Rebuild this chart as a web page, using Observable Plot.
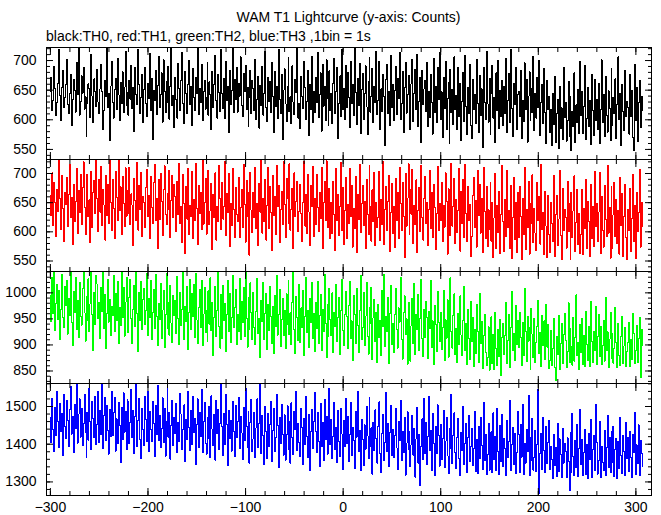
<!DOCTYPE html>
<html><head><meta charset="utf-8">
<script src="https://cdn.jsdelivr.net/npm/d3@7"></script>
<script src="https://cdn.jsdelivr.net/npm/@observablehq/plot@0.6"></script>
<style>
body{margin:0;background:#fff}
#chart{position:relative;width:661px;height:515px;background:#fff;font-family:"Liberation Sans",Arial,Helvetica,sans-serif;color:#000;overflow:hidden}
.t{position:absolute;font-size:14px;line-height:14px;white-space:nowrap}
#chart svg{position:absolute;left:0}
</style></head><body>
<div id="chart">
<div class="t" style="left:46px;width:605px;top:10px;text-align:center">WAM T1 Lightcurve (y-axis: Counts)</div>
<div class="t" style="left:46px;top:29px">black:TH0, red:TH1, green:TH2, blue:TH3 ,1bin = 1s</div>
</div>
<script>
// time bins: start (s) and bin width (s)
const tStart = -300;
const binSec = 1;

// tick values
const xMajorTicks = [-300, -200, -100, 0, 100, 200, 300];
const yTicksTH0 = [550, 600, 650, 700];
const yTicksTH1 = [550, 600, 650, 700];
const yTicksTH2 = [850, 900, 950, 1000];
const yTicksTH3 = [1300, 1400, 1500];

// counts per 1 s bin (read/estimated from the picture)
const th0 = [
648,671,615,633,690,652,607,629,662,718,641,598,655,683,620,637,
659,702,626,611,645,677,590,634,668,650,613,697,642,721,608,631,
674,645,688,618,639,571,627,661,653,604,710,640,596,669,648,622,
685,630,611,652,694,647,583,616,666,639,722,620,644,565,657,699,
629,603,651,670,617,704,642,598,663,628,681,612,655,716,624,646,
608,667,635,692,619,654,580,688,643,625,719,660,611,637,676,595,
651,689,627,606,661,636,712,615,670,567,649,632,684,609,658,707,
621,643,679,596,701,648,612,665,630,690,601,656,722,624,641,587,
672,634,603,695,652,615,666,713,628,593,681,645,611,660,700,626,
657,591,686,637,616,671,644,720,609,653,629,693,598,648,667,618,
638,697,608,664,642,584,682,621,659,709,632,603,676,646,614,718,
645,619,670,602,699,633,657,578,684,625,650,721,612,668,634,688,
613,661,640,706,624,605,678,647,692,617,655,589,637,684,610,667,
653,616,702,600,635,673,586,658,624,690,608,645,715,621,597,672,
631,664,612,696,640,579,681,622,657,602,718,634,610,677,566,650,
686,627,597,656,705,614,639,593,691,630,609,668,646,720,603,628,
585,673,640,619,699,655,601,631,684,574,659,617,707,596,648,612,
671,629,713,604,642,679,581,694,623,657,598,701,636,590,683,615,
645,594,662,704,611,648,689,568,627,674,606,719,618,653,600,692,
620,680,638,587,698,628,660,607,722,646,592,670,624,695,577,651,
678,600,644,691,622,575,664,705,613,640,687,595,657,629,716,609,
632,699,584,652,614,677,639,556,668,693,610,647,590,708,621,660,
598,650,690,609,669,636,714,601,627,682,578,654,697,611,642,675,
622,583,661,702,597,644,685,618,711,589,631,671,562,684,625,652,
666,614,697,588,647,604,676,630,576,703,612,657,596,689,634,714,
600,647,570,672,619,698,583,636,663,560,685,612,651,592,706,618,
641,584,689,606,661,565,631,680,597,708,622,575,654,610,693,590,
568,668,617,642,594,701,628,579,675,607,652,553,689,630,600,716,
627,596,670,575,645,692,603,638,561,679,615,700,585,649,606,667,
590,657,611,704,578,633,678,595,718,619,571,662,626,689,583,643,
648,606,684,569,632,597,696,617,668,562,640,681,599,652,612,707,
582,645,603,671,621,700,573,629,659,593,687,613,560,666,618,640,
579,618,556,644,592,673,562,610,634,551,656,585,620,567,688,604,
630,564,599,665,572,639,548,614,588,679,561,625,596,651,577,698,
607,648,577,623,691,567,603,655,589,632,558,677,615,573,668,598,
634,583,661,560,617,701,596,643,571,673,608,579,649,619,565,686,
591,638,611,669,568,626,706,600,645,557,660,614,582,683,605,631,
620,576,676,606,649,570,548,693,598,655,563,629,667,587,639,615
];
const th1 = [
662,628,701,611,684,650,592,673,635,724,657,604,696,640,583,668,
647,693,609,664,715,624,659,578,682,618,652,708,597,671,633,699,
613,676,720,642,595,661,699,626,655,581,704,607,668,688,631,722,
657,600,690,634,712,611,673,646,586,697,628,681,615,724,651,603,
689,640,588,703,659,619,724,636,677,596,695,649,609,710,627,671,
632,711,612,665,646,577,692,653,620,719,603,679,638,701,592,660,
650,607,676,707,626,663,589,695,641,614,684,716,619,657,571,690,
621,700,652,594,672,713,630,612,666,639,706,590,654,697,625,681,
660,600,686,630,718,614,643,582,699,648,563,677,622,709,596,645,
627,703,589,656,620,717,640,578,679,632,667,604,724,613,650,692,
596,649,706,612,636,683,570,664,625,701,586,643,617,714,657,604,
685,622,644,720,593,665,633,700,575,648,611,709,639,590,676,630,
618,694,590,642,672,607,716,647,582,688,626,667,560,702,637,599,
667,624,710,606,648,577,683,634,722,598,658,617,690,586,645,711,
605,677,633,568,697,628,660,596,714,643,680,581,638,669,612,720,
647,590,692,657,614,717,603,639,674,571,701,626,652,687,601,635,
681,631,583,650,721,610,664,597,699,634,576,679,644,712,592,657,
612,698,641,600,668,623,711,572,650,687,619,722,607,640,675,588,
650,597,686,629,568,708,619,664,593,644,719,603,676,578,636,693,
588,647,615,709,627,679,574,640,606,695,565,664,621,716,599,648,
680,611,652,571,690,630,595,713,643,584,672,617,702,576,650,607,
624,703,585,656,613,720,578,639,678,603,652,697,566,633,683,597,
643,573,691,620,667,589,710,648,602,684,627,556,700,610,658,717,
596,672,630,707,580,645,612,689,565,637,676,600,713,624,586,657,
695,615,650,576,639,705,606,668,590,682,641,569,631,712,602,648,
620,684,584,646,608,701,652,562,674,627,593,718,610,644,692,580,
656,599,637,709,567,669,614,690,591,715,631,583,677,619,647,557,
592,663,694,607,653,574,706,628,681,598,657,565,711,635,588,678,
575,638,604,685,584,651,556,624,700,572,645,599,670,563,630,713,
617,567,656,592,705,608,636,571,680,555,624,693,587,650,565,668,
590,678,627,552,658,596,710,570,639,607,687,562,648,615,698,581,
640,598,568,684,619,660,579,716,604,633,561,670,610,556,662,596,
564,651,614,583,697,558,629,663,576,622,705,593,553,675,602,638,
625,572,687,600,648,552,668,590,636,696,566,616,672,578,631,563,
596,673,561,640,606,690,571,652,617,557,681,588,644,575,703,609,
648,584,634,701,563,660,603,574,679,622,592,714,598,642,555,677,
571,629,685,592,655,580,637,562,694,611,666,558,627,682,590,553,
638,603,674,567,623,698,583,646,555,668,600,633,707,574,650,610
];
const th2 = [
994,945,1030,960,1041,928,979,1016,949,1005,911,968,1036,952,934,1012,
976,1024,921,990,957,1041,943,899,1003,963,1029,930,985,915,1020,954,
938,1008,1041,962,907,993,947,1027,925,979,1040,958,889,1001,940,1033,
1017,951,981,913,1011,965,1041,932,996,893,960,1025,944,988,919,973,
957,1034,926,999,947,1022,903,972,937,1041,953,1010,917,982,1030,941,
923,991,1026,950,902,969,1015,935,1041,961,888,1000,946,1021,929,987,
1009,940,966,1038,918,989,952,1023,910,963,1006,931,1035,955,898,980,
948,1018,912,967,1005,895,958,1037,931,982,919,1014,942,905,995,956,
985,922,1031,950,900,1001,937,968,1041,911,973,945,1012,891,962,1025,
930,998,955,1017,914,1038,948,903,971,1006,934,1024,898,959,1011,924,
967,907,1004,940,1029,927,982,879,953,1013,916,966,1039,936,894,996,
913,1015,946,979,887,958,1023,925,999,905,952,1034,933,972,1007,900,
958,926,1027,910,983,943,1010,916,1041,951,896,992,929,1019,962,911,
1001,934,900,965,1027,922,950,876,986,945,1020,911,961,999,891,978,
927,1012,954,903,973,883,995,936,1033,919,958,1007,897,948,989,918,
966,893,998,940,1024,920,962,901,981,1039,930,884,993,953,908,1016,
905,971,933,1005,879,954,1030,924,966,896,989,943,1019,913,960,888,
982,932,1021,903,957,997,889,969,926,1035,941,876,977,916,1009,949,
918,1000,885,962,935,1017,907,952,991,881,967,1026,928,898,958,1003,
955,893,976,1022,913,946,871,995,958,902,1008,937,886,966,1033,910,
934,1000,898,955,1020,917,882,972,941,1011,872,952,987,906,962,867,
977,914,947,880,1004,935,1036,897,955,925,991,864,960,1014,901,941,
885,958,1009,929,894,971,944,1030,911,873,962,994,920,950,863,982,
945,869,937,989,903,1018,882,959,929,997,890,951,1026,913,877,968,
914,984,953,874,965,931,1024,895,946,862,976,939,887,1003,944,906,
962,891,934,1004,870,948,913,987,876,964,1029,925,894,957,998,881,
932,866,961,900,994,919,879,947,1012,890,941,862,968,912,873,983,
906,952,858,930,884,978,925,867,999,903,945,855,918,958,886,860,
876,935,851,907,954,864,920,853,963,893,861,930,878,949,842,915,
941,882,918,982,865,909,958,856,933,1002,889,922,870,976,900,947,
895,962,914,860,944,879,1008,926,868,955,907,934,852,970,921,875,
951,866,905,936,985,884,924,858,956,899,946,872,978,896,940,854,
871,927,860,893,950,856,831,916,882,957,853,903,942,864,920,961,
908,857,887,981,866,931,897,861,953,869,914,996,879,904,852,939,
885,950,862,919,858,965,900,871,935,859,984,907,867,926,890,973,
863,916,958,878,936,862,899,947,869,992,889,925,856,911,963,874,
922,865,893,972,905,857,941,880,861,917,955,864,898,933,858,887,
904,943,858,911,872,960,922,864,889,938,866,913,953,838,930,899
];
const th3 = [
1470,1405,1521,1438,1380,1497,1422,1540,1459,1392,1508,1433,1481,1371,1533,1448,
1416,1515,1462,1395,1492,1552,1427,1473,1378,1505,1441,1561,1403,1480,1520,1419,
1496,1397,1455,1532,1430,1365,1485,1411,1548,1460,1386,1513,1468,1418,1527,1400,
1453,1540,1404,1489,1425,1561,1388,1477,1523,1409,1503,1436,1374,1492,1420,1539,
1423,1483,1525,1382,1467,1402,1510,1450,1352,1498,1412,1536,1432,1487,1385,1518,
1512,1401,1457,1545,1417,1490,1375,1474,1561,1393,1463,1521,1413,1362,1495,1439,
1397,1526,1466,1408,1541,1381,1486,1440,1406,1514,1454,1367,1503,1426,1555,1410,
1476,1390,1442,1523,1404,1495,1368,1461,1552,1418,1484,1360,1449,1517,1397,1471,
1429,1509,1379,1458,1407,1535,1480,1385,1439,1504,1355,1466,1413,1541,1445,1383,
1490,1398,1526,1431,1468,1347,1452,1520,1392,1485,1421,1545,1377,1459,1511,1403,
1373,1470,1416,1500,1364,1528,1440,1396,1479,1358,1515,1428,1492,1386,1455,1561,
1446,1369,1482,1400,1533,1452,1343,1489,1414,1463,1382,1513,1434,1367,1502,1418,
1461,1524,1389,1473,1430,1360,1497,1410,1549,1447,1392,1487,1350,1458,1519,1381,
1414,1484,1365,1443,1520,1390,1456,1561,1376,1475,1422,1346,1499,1433,1362,1482,
1395,1452,1514,1354,1436,1494,1380,1417,1532,1449,1337,1472,1401,1506,1427,1371,
1478,1358,1425,1502,1386,1461,1350,1510,1418,1372,1487,1438,1541,1383,1456,1405,
1368,1496,1443,1345,1469,1398,1526,1420,1364,1480,1330,1433,1491,1388,1460,1536,
1435,1377,1484,1407,1340,1507,1393,1458,1356,1518,1412,1474,1373,1441,1548,1399,
1466,1361,1421,1511,1386,1444,1351,1490,1406,1367,1495,1427,1333,1462,1395,1522,
1401,1474,1355,1426,1510,1370,1445,1409,1336,1486,1419,1540,1381,1437,1329,1465,
1412,1343,1451,1387,1500,1422,1362,1523,1395,1443,1321,1458,1384,1491,1416,1350,
1448,1512,1376,1326,1429,1478,1357,1405,1536,1380,1456,1340,1431,1503,1369,1438,
1364,1424,1494,1390,1332,1461,1410,1517,1356,1433,1379,1472,1318,1403,1486,1385,
1434,1341,1398,1476,1371,1441,1313,1414,1498,1350,1425,1290,1393,1467,1360,1521,
1375,1457,1347,1420,1526,1383,1437,1330,1481,1401,1316,1447,1376,1504,1422,1342,
1453,1360,1414,1490,1338,1408,1472,1369,1322,1442,1388,1532,1349,1424,1483,1378,
1336,1419,1469,1363,1318,1431,1384,1500,1346,1403,1455,1325,1417,1476,1353,1393,
1442,1344,1388,1488,1327,1413,1322,1447,1362,1471,1397,1333,1511,1357,1426,1320,
1372,1455,1331,1405,1433,1324,1483,1359,1421,1329,1496,1381,1319,1450,1354,1478,
1340,1414,1389,1318,1464,1364,1408,1517,1331,1398,1445,1346,1428,1322,1378,1487,
1427,1326,1453,1366,1505,1320,1403,1350,1440,1380,1530,1316,1419,1358,1469,1331,
1365,1436,1327,1399,1545,1268,1376,1428,1334,1471,1384,1325,1447,1349,1404,1463,
1333,1395,1360,1310,1425,1344,1391,1315,1456,1328,1414,1372,1312,1441,1350,1401,
1381,1311,1417,1354,1276,1432,1326,1482,1367,1316,1409,1339,1453,1314,1388,1493,
1346,1413,1317,1377,1440,1319,1400,1309,1429,1359,1465,1313,1385,1422,1330,1505,
1405,1321,1357,1460,1312,1395,1352,1329,1436,1318,1390,1476,1337,1418,1324,1434,
1352,1448,1315,1386,1416,1308,1408,1335,1472,1370,1323,1424,1380,1317,1457,1361,
1418,1327,1434,1365,1313,1426,1378,1485,1320,1398,1350,1451,1316,1410,1375,1340
];

// layout
const W = 661, ML = 46, MR = 10, PH = 112, PAD = 5;
const xDomain = [-304, 316];
const xMinorTicks = d3.range(-300, 316, 20);
const font = '"Liberation Sans", Arial, Helvetica, sans-serif';
const fmtX = d => d < 0 ? "\u2212" + (-d) : String(d);

const panels = [
  {values: th0, color: "#000000", yDomain: [533, 722], yMajor: yTicksTH0, yMinorStep: 10, top: 47},
  {values: th1, color: "#ff0000", yDomain: [532, 724], yMajor: yTicksTH1, yMinorStep: 10, top: 159},
  {values: th2, color: "#00ff00", yDomain: [826, 1041], yMajor: yTicksTH2, yMinorStep: 10, top: 271},
  {values: th3, color: "#0000ff", yDomain: [1264, 1561], yMajor: yTicksTH3, yMinorStep: 20, top: 383}
];

const chart = document.getElementById("chart");
panels.forEach((p, idx) => {
  const last = idx === panels.length - 1;
  const data = p.values.map((v, i) => ({t: tStart + i * binSec, v}));
  const mb = last ? 25 : PAD;
  const yMinor = d3.range(Math.ceil(p.yDomain[0] / p.yMinorStep) * p.yMinorStep, p.yDomain[1], p.yMinorStep);
  const marks = [
    Plot.line(data, {x: "t", y: "v", stroke: p.color, strokeWidth: 1, curve: "step", shapeRendering: "crispEdges", clip: true}),
    Plot.frame({stroke: "#000"}),
    Plot.axisY({ticks: yMinor, anchor: "left", tickSize: -4, tickFormat: () => "", label: null}),
    Plot.axisY({ticks: p.yMajor, anchor: "left", tickSize: -7, tickFormat: () => "", label: null}),
    Plot.axisY({ticks: yMinor, anchor: "right", tickSize: -4, tickFormat: () => "", label: null}),
    Plot.axisY({ticks: p.yMajor, anchor: "right", tickSize: -7, tickFormat: () => "", label: null}),
    Plot.axisY({ticks: p.yMajor, anchor: "left", tickSize: 0, tickPadding: 10, fontSize: 14, tickFormat: d => String(d), label: null}),
    Plot.axisX({ticks: xMinorTicks, anchor: "bottom", tickSize: -4, tickFormat: () => "", label: null}),
    Plot.axisX({ticks: xMajorTicks, anchor: "bottom", tickSize: -7, tickFormat: () => "", label: null}),
    Plot.axisX({ticks: xMinorTicks, anchor: "top", tickSize: -4, tickFormat: () => "", label: null}),
    Plot.axisX({ticks: xMajorTicks, anchor: "top", tickSize: -7, tickFormat: () => "", label: null})
  ];
  if (last) {
    marks.push(Plot.axisX({ticks: xMajorTicks, anchor: "bottom", tickSize: 0, tickPadding: 7, fontSize: 14, tickFormat: fmtX, label: null}));
  }
  const svg = Plot.plot({
    width: W,
    height: PH + PAD + mb,
    marginLeft: ML,
    marginRight: MR,
    marginTop: PAD,
    marginBottom: mb,
    x: {domain: xDomain, label: null},
    y: {domain: p.yDomain, label: null},
    style: {fontFamily: font, fontSize: "14px", overflow: "visible", background: "transparent", color: "#000"},
    marks
  });
  svg.style.position = "absolute";
  svg.style.top = (p.top - PAD) + "px";
  svg.style.left = "0px";
  chart.appendChild(svg);
});
</script>
</body></html>
